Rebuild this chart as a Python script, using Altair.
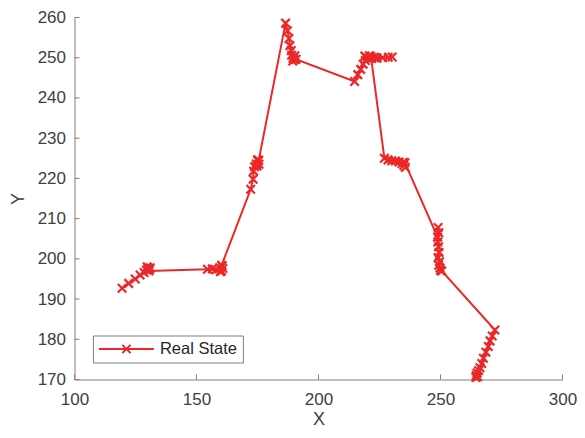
import altair as alt
import pandas as pd

# ---- data ----
xs = [119.5, 122.2, 124.9, 126.9, 128.5, 129.5, 130.2, 129.8, 130.8, 131.0, 130.5,
      154.5, 156.5, 158.0, 159.5, 160.2, 160.5, 159.8, 160.8, 160.3,
      172.2, 173.2, 173.4, 173.8, 174.5, 175.3, 174.8, 175.6, 175.0, 175.5,
      186.5, 187.3, 187.9, 188.3, 188.8, 189.0, 189.6, 190.3, 189.4, 190.1, 190.8,
      214.8, 216.1, 217.3, 218.3, 219.2, 219.0, 220.0, 220.8, 221.8, 222.8, 224.0,
      226.3, 228.6, 230.2, 223.0, 221.5,
      227.0, 228.5, 230.0, 231.5, 233.0, 234.2, 235.0, 235.6, 234.8, 235.4,
      248.8, 249.0, 249.3, 248.9, 249.2, 249.4, 249.0, 249.6, 249.3, 249.8, 250.0, 250.5,
      272.3, 271.2, 270.3, 269.6, 268.6, 267.6, 266.9, 266.2, 265.6, 265.0, 264.6,
      265.3, 264.5]
ys = [192.7, 193.9, 195.0, 196.0, 196.6, 197.2, 197.6, 198.0, 197.4, 197.8, 197.0,
      197.4, 197.5, 197.3, 197.8, 197.0, 198.2, 196.8, 197.6, 198.4,
      217.3, 219.8, 221.8, 222.9, 223.6, 224.3, 223.1, 223.5, 224.6, 224.5,
      258.6, 256.7, 254.8, 253.0, 251.8, 250.6, 249.9, 250.5, 249.2, 249.5, 249.6,
      244.1, 245.8, 247.1, 248.4, 249.3, 250.4, 250.0, 250.5, 249.8, 250.1, 249.9,
      250.0, 250.1, 250.2, 250.0, 250.3,
      225.0, 224.6, 224.4, 224.3, 224.1, 223.7, 223.2, 222.7, 224.0, 223.9,
      205.4, 207.8, 206.5, 204.2, 203.0, 201.6, 200.3, 199.3, 198.4, 197.7, 197.1, 197.0,
      182.3, 180.8, 179.6, 178.2, 176.8, 175.3, 174.0, 172.9, 172.2, 171.6, 171.0,
      170.7, 170.5]
series = ["Real State"]
x_ticks = [100, 150, 200, 250, 300]
y_ticks = [170, 180, 190, 200, 210, 220, 230, 240, 250, 260]

df = pd.DataFrame({"x": xs, "y": ys, "i": list(range(len(xs))), "series": series[0]})
xt_df = pd.DataFrame({"x": x_ticks})
yt_df = pd.DataFrame({"y": y_ticks})

RED = "#ec2727"
AX = "#7f7f7f"
TXT = "#404040"
FONT = "Liberation Sans"
W, H = 488, 362

xscale = alt.Scale(domain=[100, 300], nice=False, zero=False)
yscale = alt.Scale(domain=[170, 260], nice=False, zero=False)

xaxis = alt.Axis(values=x_ticks, title="X", tickSize=0, labelPadding=12,
                 labelFontSize=17, labelFont=FONT, labelColor=TXT, labelFlush=False,
                 labelOverlap=False, domainColor=AX, domainWidth=1, grid=False,
                 titleFont=FONT, titleFontSize=18, titleFontWeight="normal",
                 titleColor=TXT, titlePadding=3, format="d")
yaxis = alt.Axis(values=y_ticks, title="Y", tickSize=0, labelPadding=9,
                 labelFontSize=17, labelFont=FONT, labelColor=TXT, labelFlush=False,
                 labelOverlap=False, domainColor=AX, domainWidth=1, grid=False,
                 titleFont=FONT, titleFontSize=18, titleFontWeight="normal",
                 titleColor=TXT, titleAngle=270, titleX=-56, titleY=H / 2,
                 titleBaseline="middle", titleAlign="center", format="d")

line = alt.Chart(df).mark_line(
    strokeWidth=2,
    point=alt.OverlayMarkDef(shape="M-1,-1L1,1M-1,1L1,-1", filled=False,
                             size=72, strokeWidth=2.2),
).encode(
    x=alt.X("x:Q", scale=xscale, axis=xaxis),
    y=alt.Y("y:Q", scale=yscale, axis=yaxis),
    order=alt.Order("i:Q"),
    color=alt.Color("series:N", scale=alt.Scale(domain=series, range=[RED]),
                    legend=alt.Legend(
                        title=None, orient="none", legendX=18.4, legendY=H - 44,
                        symbolType="M-1,0L1,0M-0.15,-0.15L0.15,0.15M-0.15,0.15L0.15,-0.15",
                        symbolSize=3025, symbolStrokeWidth=2,
                        labelFont=FONT, labelFontSize=16.5, labelColor="#262626",
                        labelOffset=5, padding=5, strokeColor=AX, fillColor="white",
                        cornerRadius=0, clipHeight=17)),
)

xticks = alt.Chart(xt_df).mark_rule(color=AX, strokeWidth=1).encode(
    x=alt.X("x:Q", scale=xscale, axis=xaxis),
    y=alt.value(H), y2=alt.value(H - 5),
)
yticks = alt.Chart(yt_df).mark_rule(color=AX, strokeWidth=1).encode(
    y=alt.Y("y:Q", scale=yscale, axis=yaxis),
    x=alt.value(0), x2=alt.value(5),
)

chart = alt.layer(xticks, yticks, line).properties(
    width=W, height=H,
    padding={"left": 66.5, "top": 9.5, "right": 14, "bottom": 50.5},
    autosize=alt.AutoSizeParams(type="none"),
    background="white",
).configure_view(strokeWidth=0)

chart.save("out.html", embed_options={"renderer": "svg", "actions": False})
